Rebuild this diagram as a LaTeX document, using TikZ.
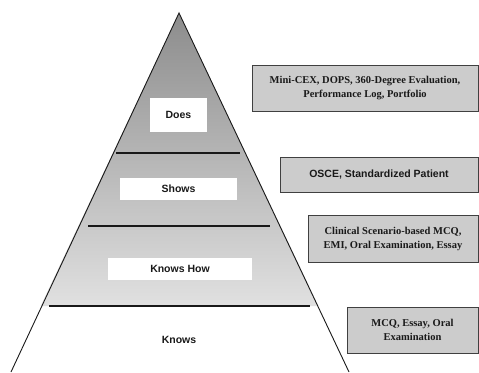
\documentclass[tikz,border=0pt]{standalone}
\usepackage{fontspec}
\setmainfont{Liberation Serif}
\newfontfamily\arialfont{Liberation Sans}
\begin{document}
\begin{tikzpicture}[x=1pt,y=-1pt,
  lvlbox/.style={fill=white,draw=none,inner sep=0pt,font=\arialfont\bfseries\fontsize{10.5}{13}\selectfont,text=black!90},
  methodbox/.style={draw=black!75,line width=1pt,fill=black!20,inner sep=0pt,align=center,
    font=\bfseries\fontsize{10.5}{14}\selectfont,text=black!90},
  divider/.style={line width=1.4pt,black!90},
  edge/.style={line width=0.9pt,black!90}]
\useasboundingbox (0,0) rectangle (479,372);
% pyramid corners
\coordinate (apex) at (179,13);
\coordinate (bl) at (11,372);
\coordinate (br) at (349,372);
\coordinate (l3) at (40.7,306);
\coordinate (r3) at (318.5,306);
% shading of the upper levels
\shade[top color=black!45,bottom color=black!12] (apex) -- (l3) -- (r3) -- cycle;
% pyramid sides
\draw[edge] (bl) -- (apex) -- (br);
% dividers
\coordinate (d1a) at (116,153); \coordinate (d1b) at (240,153);
\coordinate (d2a) at (88,226);  \coordinate (d2b) at (270,226);
\coordinate (d3a) at (49,306);  \coordinate (d3b) at (310,306);
\draw[divider] (d1a) -- (d1b);
\draw[divider] (d2a) -- (d2b);
\draw[divider] (d3a) -- (d3b);
% level labels
\node[lvlbox,minimum width=57pt,minimum height=34pt] (does) at (178.5,115) {Does};
\node[lvlbox,minimum width=117pt,minimum height=22pt] (shows) at (178.5,189) {Shows};
\node[lvlbox,minimum width=144pt,minimum height=22pt] (knowshow) at (180,269) {Knows How};
\node[lvlbox,fill=none] (knows) at (179,340) {Knows};
% method boxes
\node[methodbox,minimum width=226pt,minimum height=46pt] (m1) at (365,88)
  {Mini-CEX, DOPS, 360-Degree Evaluation,\\Performance Log, Portfolio};
\node[methodbox,minimum width=198pt,minimum height=35pt,font=\arialfont\bfseries\fontsize{10.5}{14}\selectfont] (m2) at (379,174.5)
  {OSCE, Standardized Patient};
\node[methodbox,minimum width=170pt,minimum height=47pt] (m3) at (393,238.5)
  {Clinical Scenario-based MCQ,\\EMI, Oral Examination, Essay};
\node[methodbox,minimum width=131pt,minimum height=46pt] (m4) at (412.5,330)
  {MCQ, Essay, Oral\\Examination};
\end{tikzpicture}
\end{document}
